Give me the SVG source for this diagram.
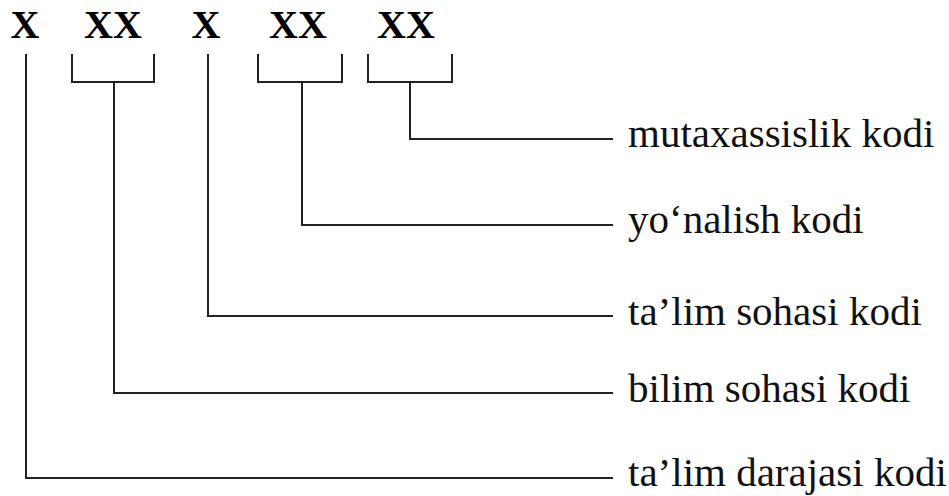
<svg xmlns="http://www.w3.org/2000/svg" width="949" height="496" viewBox="0 0 949 496">
<style>
.code{font-family:"Liberation Serif","Times New Roman",serif;font-weight:bold;font-size:40px;fill:#000;text-anchor:middle}
.lbl{font-family:"Liberation Serif","Times New Roman",serif;font-size:41px;fill:#111}
.ln{fill:none;stroke:#222;stroke-width:2;stroke-linecap:square;stroke-linejoin:miter}
</style>
<rect width="949" height="496" fill="#fff"/>
<g id="code">
<text class="code" x="25" y="38">X</text>
<text class="code" x="113" y="38">XX</text>
<text class="code" x="206" y="38">X</text>
<text class="code" x="298" y="38">XX</text>
<text class="code" x="406" y="38">XX</text>
</g>
<g id="brackets">
<path class="ln" d="M72,55 V82 H154 V55"/>
<path class="ln" d="M258,55 V82 H342 V55"/>
<path class="ln" d="M368,55 V82 H452 V55"/>
</g>
<g id="connectors">
<path class="ln" d="M410,82 V139 H612"/>
<path class="ln" d="M302,82 V225 H612"/>
<path class="ln" d="M208,55 V316 H612"/>
<path class="ln" d="M114,82 V393 H612"/>
<path class="ln" d="M26,55 V478 H612"/>
</g>
<g id="label-mutaxassislik"><text class="lbl" x="628" y="147">mutaxassislik kodi</text></g>
<g id="label-yonalish"><text class="lbl" x="628" y="233">yo‘nalish kodi</text></g>
<g id="label-talim-sohasi"><text class="lbl" x="628" y="325">ta’lim sohasi kodi</text></g>
<g id="label-bilim"><text class="lbl" x="628" y="402">bilim sohasi kodi</text></g>
<g id="label-darajasi"><text class="lbl" x="628" y="486">ta’lim darajasi kodi</text></g>
</svg>
